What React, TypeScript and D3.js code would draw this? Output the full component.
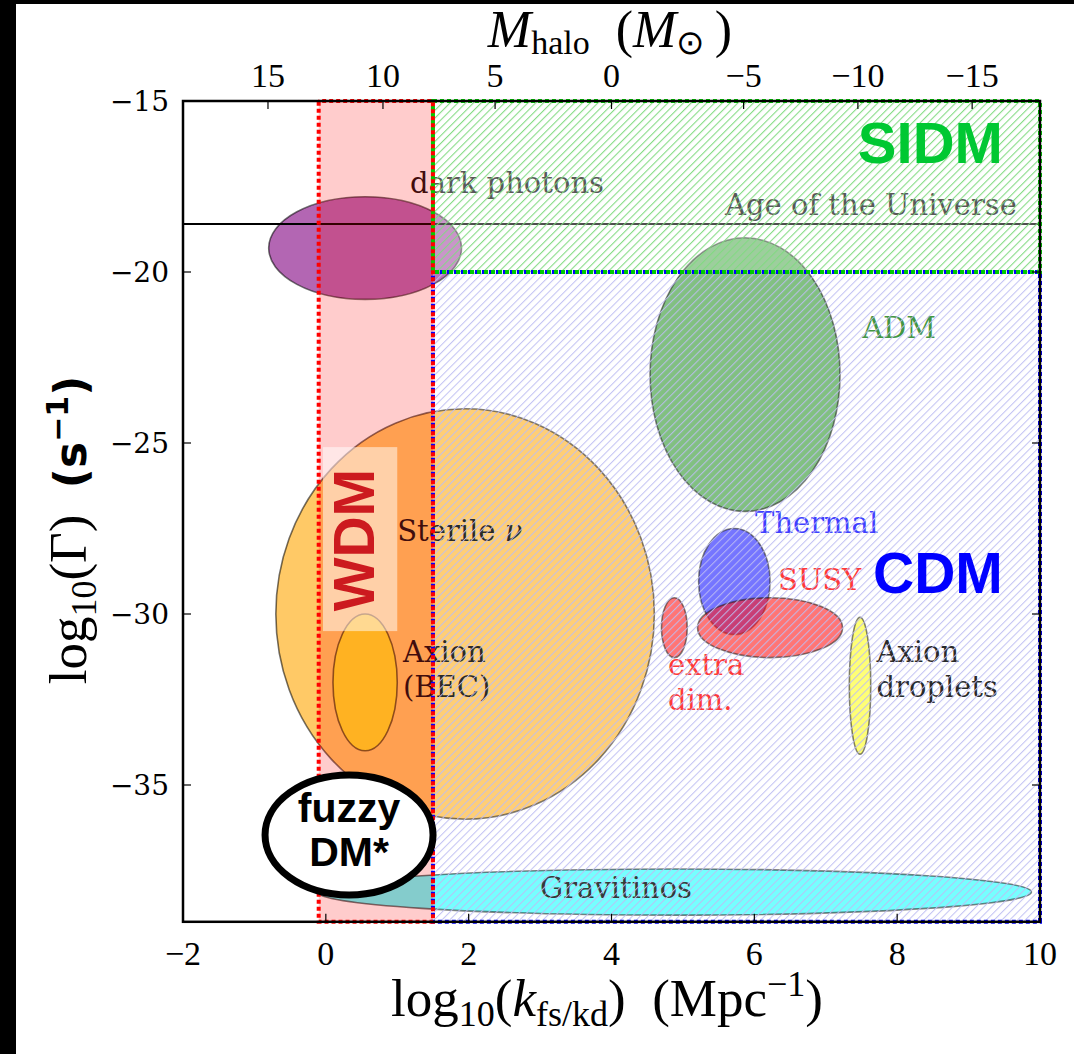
import React from "react";
import * as d3 from "d3";

// ---------- data ----------
const xTicks = [-2, 0, 2, 4, 6, 8, 10];
const yTicks = [-15, -20, -25, -30, -35];
const mhaloTicks = [15, 10, 5, 0, -5, -10, -15];
const mhaloTickK = [-0.81, 0.8, 2.37, 4.0, 5.85, 7.45, 9.05];

const candNames = ["dark photons", "ADM", "Sterile ν", "Axion (BEC)", "Thermal", "SUSY", "extra dim.", "Axion droplets", "Gravitinos"];
const candCx = [0.55, 5.87, 1.95, 0.55, 5.72, 6.22, 4.88, 7.48, 4.88];
const candCy = [-19.3, -23.0, -30.0, -32.0, -29.05, -30.4, -30.4, -32.1, -38.13];
const candW = [2.7, 2.66, 5.3, 0.9, 1.0, 2.03, 0.36, 0.3, 10.0];
const candH = [3.0, 8.0, 12.0, 4.0, 3.1, 1.75, 1.75, 4.0, 1.35];
const candFill = ["#800080", "#008000", "#ffa500", "#ffe028", "#0000ff", "#ff0000", "#ff0000", "#ffff00", "#00ffff"];
const candAlpha = [0.6, 0.55, 0.6, 0.95, 0.6, 0.6, 0.6, 0.6, 0.6];

const labelLines = [["dark photons"], ["ADM"], ["Sterile ν"], ["Axion", "(BEC)"], ["Thermal"], ["SUSY"], ["extra", "dim."], ["Axion", "droplets"], ["Gravitinos"], ["Age of the Universe"]];
const labelX = [1.18, 7.51, 1.0, 1.08, 6.01, 6.33, 4.79, 7.71, 3.0, 5.59];
const labelY = [-17.69, -21.93, -27.86, -31.4, -27.63, -29.3, -31.78, -31.4, -38.3, -18.33];
const labelColor = ["#111", "#2e8b2e", "#111", "#111", "#2a2aff", "#ff2222", "#ff2222", "#111", "#222", "#111"];

const ageOfUniverse = -18.6;

const regionNames = ["WDM", "SIDM", "CDM"];
const regionX0 = [-0.1, 1.5, 1.5];
const regionX1 = [1.5, 10, 10];
const regionY0 = [-39, -20, -39];
const regionY1 = [-15, -15, -20];

// ---------- layout ----------
const W = 1074, H = 1054;
const x = d3.scaleLinear().domain([-2, 10]).range([183, 1040]);
const y = d3.scaleLinear().domain([-15, -39]).range([101, 921.8]);
const xTop = d3.scaleLinear().domain(mhaloTicks).range(mhaloTickK.map((k) => x(k)));

const serif = "DejaVu Serif";
const cm = "Liberation Serif";
const sans = "Liberation Sans";

export default function App() {
  const rx = (i: number) => x(regionX0[i]);
  const rw = (i: number) => x(regionX1[i]) - x(regionX0[i]);
  const ry = (i: number) => y(regionY1[i]);
  const rh = (i: number) => y(regionY0[i]) - y(regionY1[i]);
  const [x0, x1] = x.range();
  const [y0, y1] = y.range();

  return (
    <svg width={W} height={H} style={{ position: "absolute", left: 0, top: 0, background: "#fff" }}>
      <defs>
        <pattern id="hatchG" patternUnits="userSpaceOnUse" width="5.5" height="5.5" patternTransform="rotate(45)">
          <line x1="0" y1="0" x2="0" y2="5.5" stroke="#80da80" strokeWidth="2.2" />
        </pattern>
        <pattern id="hatchB" patternUnits="userSpaceOnUse" width="5.5" height="5.5" patternTransform="rotate(45)">
          <line x1="0" y1="0" x2="0" y2="5.5" stroke="#bdbdf2" strokeWidth="2.1" />
        </pattern>
        <clipPath id="plotClip">
          <rect x={x0} y={y0} width={x1 - x0} height={y1 - y0} />
        </clipPath>
      </defs>
      <rect x={0} y={0} width={W} height={H} fill="#fff" />

      <g clipPath="url(#plotClip)">
        {candNames.map((n, i) => (
          <ellipse key={n} cx={x(candCx[i])} cy={y(candCy[i])}
            rx={(x(candW[i]) - x(0)) / 2} ry={(y(-candH[i]) - y(0)) / 2}
            fill={candFill[i]} fillOpacity={candAlpha[i]} stroke="#000" strokeOpacity={0.55} strokeWidth={1.6} />
        ))}
        <line x1={x0} x2={x1} y1={y(ageOfUniverse)} y2={y(ageOfUniverse)} stroke="#000" strokeWidth={2} />
        {labelLines.map((lines, i) => (
          <text key={i} x={x(labelX[i])} y={y(labelY[i])} fontFamily={serif} fontSize={29} fill={labelColor[i]}>
            {lines.map((l, j) => (
              <tspan key={j} x={x(labelX[i])} dy={j === 0 ? 0 : 35}>
                {l === "Sterile ν" ? <>Sterile <tspan fontStyle="italic">ν</tspan></> : l}
              </tspan>
            ))}
          </text>
        ))}
        {/* regions */}
        <rect x={rx(0)} y={ry(0)} width={rw(0)} height={rh(0)} fill="#ff0000" fillOpacity={0.2} />
        <rect x={rx(1)} y={ry(1)} width={rw(1)} height={rh(1)} fill="#fff" fillOpacity={0.3} />
        <rect x={rx(1)} y={ry(1)} width={rw(1)} height={rh(1)} fill="url(#hatchG)" opacity={0.95} />
        <rect x={rx(2)} y={ry(2)} width={rw(2)} height={rh(2)} fill="#fff" fillOpacity={0.1} />
        <rect x={rx(2)} y={ry(2)} width={rw(2)} height={rh(2)} fill="url(#hatchB)" opacity={0.9} />
      </g>
      {/* dotted borders */}
      <rect x={rx(2)} y={ry(2)} width={rw(2)} height={rh(2)} fill="none" stroke="#0000ff" strokeWidth={4} strokeDasharray="4,3" />
      <rect x={rx(1)} y={ry(1)} width={rw(1)} height={rh(1)} fill="none" stroke="#00cc00" strokeWidth={4} strokeDasharray="4,3" />
      <rect x={rx(0)} y={ry(0)} width={rw(0)} height={rh(0)} fill="none" stroke="#ff0000" strokeWidth={4} strokeDasharray="4,3" strokeDashoffset={3.5} />

      {/* big labels */}
      <text x={x(9.48)} y={y(-16.81)} textAnchor="end" fontFamily={sans} fontWeight="bold" fontSize={58} fill="#00c832">{regionNames[1]}</text>
      <text x={x(9.48)} y={y(-29.39)} textAnchor="end" fontFamily={sans} fontWeight="bold" fontSize={57} fill="#0000ff">{regionNames[2]}</text>
      <rect x={x(-0.04)} y={y(-25.12)} width={x(1.0) - x(-0.04)} height={y(-30.5) - y(-25.12)} fill="#fff" fillOpacity={0.5} />
      <text transform={`translate(${x(0.4) + 20},${y(-27.84)}) rotate(-90)`} textAnchor="middle" fontFamily={sans} fontWeight="bold" fontSize={57} fill="#cc1a1f">{regionNames[0]}</text>

      {/* fuzzy DM label */}
      <ellipse cx={x(0.325)} cy={y(-36.46)} rx={84} ry={60} fill="#fff" stroke="#000" strokeWidth={7} />
      <text x={x(0.325)} y={y(-36.46) - 13} textAnchor="middle" fontFamily={sans} fontWeight="bold" fontSize={41} fill="#000">fuzzy</text>
      <text x={x(0.325)} y={y(-36.46) + 31} textAnchor="middle" fontFamily={sans} fontWeight="bold" fontSize={41} fill="#000">DM*</text>

      {/* axes frame */}
      <rect x={x0} y={y0} width={x1 - x0} height={y1 - y0} fill="none" stroke="#000" strokeWidth={2.5} />
      {xTicks.map((t) => (
        <g key={"xt" + t}>
          <line x1={x(t)} x2={x(t)} y1={y1} y2={y1 - 8} stroke="#000" strokeWidth={1.2} />
          <text x={x(t)} y={y1 + 43} textAnchor="middle" fontFamily={cm} fontSize={34}>{t < 0 ? "−" + Math.abs(t) : t}</text>
        </g>
      ))}
      {yTicks.map((t) => (
        <g key={"yt" + t}>
          <line x1={x0} x2={x0 + 8} y1={y(t)} y2={y(t)} stroke="#000" strokeWidth={1.2} />
          <line x1={x1} x2={x1 - 8} y1={y(t)} y2={y(t)} stroke="#000" strokeWidth={1.2} />
          <text x={x0 - 14} y={y(t) + 10} textAnchor="end" fontFamily={serif} fontSize={28}>{"−" + Math.abs(t)}</text>
        </g>
      ))}
      {mhaloTicks.map((t) => (
        <g key={"mt" + t}>
          <line x1={xTop(t)} x2={xTop(t)} y1={y0} y2={y0 + 8} stroke="#000" strokeWidth={1.2} />
          <text x={xTop(t)} y={y0 - 14} textAnchor="middle" fontFamily={cm} fontSize={34}>{t < 0 ? "−" + Math.abs(t) : t}</text>
        </g>
      ))}

      {/* axis titles */}
      <text x={610} y={47} textAnchor="middle" fontFamily={cm} fontSize={52}>
        <tspan fontStyle="italic">M</tspan>
        <tspan fontSize={34} dy={7}>halo</tspan>
        <tspan dy={-7}>{"\u2002("}</tspan>
        <tspan fontStyle="italic">M</tspan>
        <tspan fontSize={34} dy={7}>⊙</tspan>
        <tspan dy={-7}>{"\u2009)"}</tspan>
      </text>
      <text x={607} y={1016} textAnchor="middle" fontFamily={cm} fontSize={53}>
        <tspan>log</tspan>
        <tspan fontSize={36} dy={10}>10</tspan>
        <tspan dy={-10}>(</tspan>
        <tspan fontStyle="italic">k</tspan>
        <tspan fontSize={36} dy={10}>fs/kd</tspan>
        <tspan dy={-10}>{")\u2002(Mpc"}</tspan>
        <tspan fontSize={36} dy={-20}>−1</tspan>
        <tspan dy={20}>)</tspan>
      </text>
      <text transform={`translate(86,530) rotate(-90)`} textAnchor="middle" fontFamily={cm} fontSize={53}>
        <tspan>log</tspan>
        <tspan fontSize={36} dy={10}>10</tspan>
        <tspan dy={-10}>{"(Γ)\u2002"}</tspan>
        <tspan fontFamily="DejaVu Sans" fontWeight="bold" fontSize={44}>(s</tspan>
        <tspan fontFamily="DejaVu Sans" fontWeight="bold" fontSize={30} dy={-18}>−1</tspan>
        <tspan fontFamily="DejaVu Sans" fontWeight="bold" fontSize={44} dy={18}>)</tspan>
      </text>

      {/* black frame strips of the picture */}
      <rect x={0} y={0} width={16} height={H} fill="#000" />
      <rect x={0} y={0} width={W} height={4} fill="#000" />
    </svg>
  );
}
